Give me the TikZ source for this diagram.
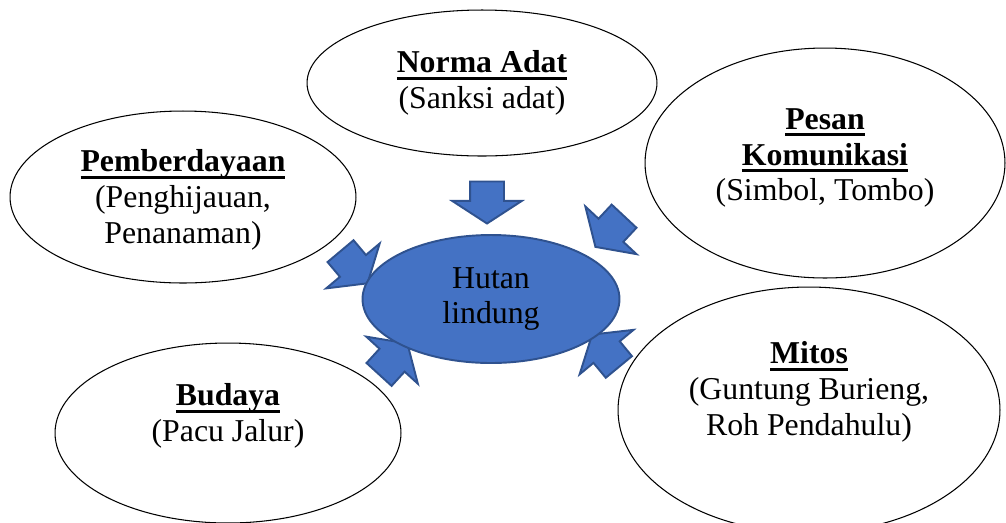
\documentclass[tikz,border=0pt]{standalone}
\usepackage{fontspec}
\setmainfont{Liberation Serif}
\usetikzlibrary{shapes.geometric,shapes.arrows}

\definecolor{fillblue}{HTML}{4472C4}
\definecolor{lineblue}{HTML}{2F528F}

% bold, underlined title
\newcommand\ttl[1]{\leavevmode\setbox0\hbox{\textbf{#1}}\rlap{\rule[-4pt]{\wd0}{1.6pt}}\box0}

\begin{document}
\begin{tikzpicture}[x=0.02cm,y=-0.02cm,
    every node/.style={font=\fontsize{18.1}{20.4}\selectfont},
    oval/.style={ellipse,draw,line width=0.6pt,inner sep=0pt},
    txt/.style={align=center,inner sep=0pt},
    blok/.style={single arrow,draw=lineblue,fill=fillblue,line width=1.1pt,
                 inner xsep=0pt,inner ysep=0.32cm,minimum height=0.84cm,
                 single arrow head extend=0.36cm,single arrow tip angle=114}]

  \useasboundingbox (0,0) rectangle (1006,522);
  \clip (0,0) rectangle (1006,522);

  % outer ellipses
  \node[oval,minimum width=7cm,minimum height=2.92cm]    (norma)  at (482,83)  {};
  \node[oval,minimum width=7.2cm,minimum height=4.6cm]   (pesan)  at (825,163) {};
  \node[oval,minimum width=6.92cm,minimum height=3.44cm] (pember) at (183,197) {};
  \node[oval,minimum width=6.92cm,minimum height=3.6cm]  (budaya) at (228,433) {};
  \node[oval,minimum width=7.64cm,minimum height=4.92cm] (mitos)  at (809,410) {};

  \node[txt] (normatxt)  at (norma)  {\ttl{Norma Adat}\\(Sanksi adat)};
  \node[txt] (pesantxt)  at ([yshift=0.1cm]pesan.center)
        {\ttl{Pesan}\\\ttl{Komunikasi}\\(Simbol, Tombo)};
  \node[txt] (pembertxt) at ([yshift=-0.06cm]pember.center) {\ttl{Pemberdayaan}\\(Penghijauan,\\Penanaman)};
  \node[txt] (budayatxt) at ([yshift=0.34cm]budaya.center) {\ttl{Budaya}\\(Pacu Jalur)};
  \node[txt] (mitostxt)  at ([yshift=0.36cm]mitos.center)
        {\ttl{Mitos}\\(Guntung Burieng,\\Roh Pendahulu)};

  % block arrows
  \node[blok,rotate=-90]   (a1) at (487,197) {};
  \node[blok,rotate=-133]  (a2) at (613.5,227.5) {};
  \node[blok,rotate=-50]   (a3) at (350.5,263) {};
  \node[blok,rotate=47.6]  (a4) at (389.5,363) {};
  \node[blok,rotate=129.5] (a5) at (609,355) {};

  % centre
  \node[ellipse,draw=lineblue,fill=fillblue,line width=1.1pt,inner sep=0pt,
        minimum width=5.14cm,minimum height=2.56cm,align=center] (hutan) at (491,299)
        {Hutan\\lindung};
\end{tikzpicture}
\end{document}
